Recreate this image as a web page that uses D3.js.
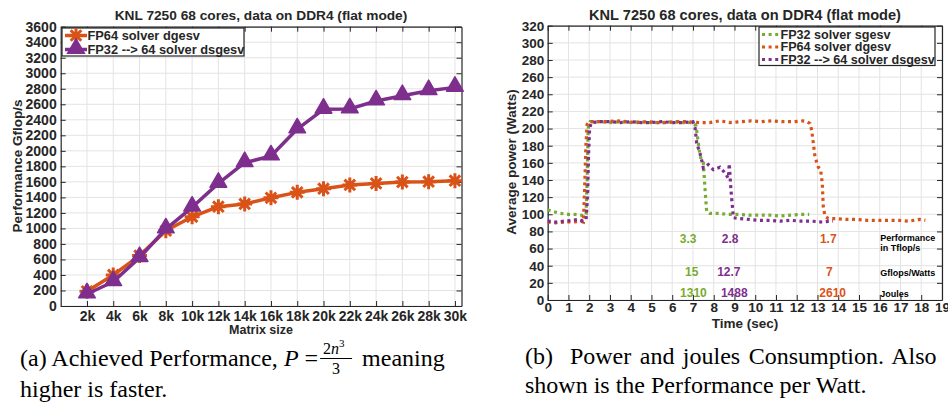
<!DOCTYPE html>
<html>
<head>
<meta charset="utf-8">
<script src="https://cdn.jsdelivr.net/npm/d3@7"></script>
<style>
  body { margin: 0; background: #fff; }
  svg { display: block; }
  text { font-family: "Liberation Sans", Arial, sans-serif; fill: #262626; }
  .grid line { stroke: #e3e3e3; stroke-width: 1; }
  .axis path, .axis line { stroke: #262626; }
  text.cap, .cap text { font-family: "Liberation Serif", "Times New Roman", serif; fill: #000; }
</style>
</head>
<body>
<div id="vis"></div>
<script>
// ---- panel (a): performance vs matrix size ----
const matrixSizes = [2, 4, 6, 8, 10, 12, 14, 16, 18, 20, 22, 24, 26, 28, 30]; // in k
const dgesvGflops  = [190, 400, 650, 970, 1150, 1280, 1315, 1395, 1465, 1512, 1560, 1580, 1598, 1602, 1615];
const dsgesvGflops = [155, 313, 623, 992, 1272, 1580, 1847, 1933, 2281, 2535, 2540, 2642, 2710, 2775, 2818];
const perfTicks = [0, 200, 400, 600, 800, 1000, 1200, 1400, 1600, 1800, 2000, 2200, 2400, 2600, 2800, 3000, 3200, 3400, 3600];
const sizeTickLabels = ["2k", "4k", "6k", "8k", "10k", "12k", "14k", "16k", "18k", "20k", "22k", "24k", "26k", "28k", "30k"];

// ---- panel (b): power over time ----
const sgesvTime  = [0, 0.3, 0.6, 1.0, 1.3, 1.6, 1.75, 1.85, 1.9, 1.95, 2.05, 2.5, 3.0, 3.5, 4.0, 4.5, 5.0, 5.5, 6.0, 6.5, 7.0, 7.15, 7.3, 7.4, 7.5, 7.58, 7.66, 7.8, 8.2, 8.7, 9.2, 9.7, 10.2, 10.7, 11.2, 11.7, 12.2, 12.6];
const sgesvWatts = [105, 103, 101, 100, 100, 99, 98, 100, 140, 200, 208, 208, 207, 208, 207, 208, 207, 207, 208, 207, 207, 203, 175, 163, 160, 130, 103, 101, 101, 100, 100, 99, 99, 99, 98, 99, 100, 100];

const dgesvTime  = [0, 0.4, 0.8, 1.2, 1.6, 1.72, 1.78, 1.84, 1.9, 2.0, 2.3, 2.8, 3.3, 3.8, 4.3, 4.8, 5.3, 5.8, 6.3, 6.8, 7.3, 7.8, 8.3, 8.8, 9.3, 9.8, 10.3, 10.8, 11.3, 11.8, 12.3, 12.5, 12.64, 12.72, 12.8, 12.88, 13.04, 13.15, 13.23, 13.28, 13.36, 13.52, 13.9, 14.4, 14.9, 15.4, 15.9, 16.4, 16.9, 17.4, 17.9, 18.2];
const dgesvWatts = [91, 90, 91, 91, 92, 91, 130, 180, 205, 208, 208, 208, 209, 208, 207, 208, 207, 207, 208, 208, 207, 207, 209, 207, 208, 209, 208, 209, 208, 208, 209, 208, 206, 198, 183, 167, 155, 152, 136, 109, 98, 95, 95, 94, 94, 93, 93, 93, 93, 92, 94, 93];

const dsgesvTime  = [0, 0.4, 0.8, 1.2, 1.5, 1.7, 1.85, 1.92, 1.97, 2.02, 2.1, 2.5, 3.0, 3.5, 4.0, 4.5, 5.0, 5.5, 6.0, 6.5, 7.0, 7.1, 7.18, 7.34, 7.45, 7.5, 7.74, 7.98, 8.3, 8.55, 8.7, 8.75, 8.82, 8.87, 8.95, 9.2, 9.7, 10.2, 10.7, 11.2, 11.7, 12.2, 12.7, 13.2, 13.75];
const dsgesvWatts = [92, 91, 92, 93, 94, 92, 94, 120, 170, 200, 207, 208, 208, 207, 208, 207, 207, 208, 207, 207, 208, 201, 183, 171, 160, 154, 158, 152, 155, 148, 142, 159, 132, 117, 96, 95, 94, 93, 93, 92, 93, 92, 92, 91, 92];

const powerTicks = [0, 20, 40, 60, 80, 100, 120, 140, 160, 180, 200, 220, 240, 260, 280, 300, 320];
const timeTicks = [0, 1, 2, 3, 4, 5, 6, 7, 8, 9, 10, 11, 12, 13, 14, 15, 16, 17, 18, 19];

// annotations: value labels per solver, placed at (time, watts)
const noteSolvers = ["sgesv", "dsgesv", "dgesv"];
const perfTflops = ["3.3", "2.8", "1.7"];
const gflopsPerWatt = ["15", "12.7", "7"];
const joules = ["1310", "1488", "2610"];
const perfNoteTime = [6.77, 8.79, 13.52];
const gpwNoteTime = [6.94, 8.73, 13.57];
const joulesNoteTime = [7.02, 8.99, 13.73];
const rowNoteWatts = [72, 33, 8.5];
const rowTitles = [["Performance", "in Tflop/s"], ["Gflops/Watts"], ["Joules"]];

const color = {
  sgesv: "#77AC30",
  dgesv: "#D95319",
  dsgesv: "#7E2F8E"
};

const W = 948, H = 408;
const svg = d3.select("#vis").append("svg")
  .attr("width", W)
  .attr("height", H)
  .attr("viewBox", [0, 0, W, H].join(" "));

// draws a MATLAB-like box axis with inward ticks and a grid
function boxAxes(g, x, y, xTicks, xFormat, yTicks, fontSize, xPad, yPad) {
  const [x0, x1] = x.range();
  const [y0, y1] = y.range();

  g.append("g").attr("class", "grid")
    .selectAll("line").data(xTicks).join("line")
      .attr("x1", d => x(d)).attr("x2", d => x(d))
      .attr("y1", y0).attr("y2", y1);
  g.append("g").attr("class", "grid")
    .selectAll("line").data(yTicks).join("line")
      .attr("x1", x0).attr("x2", x1)
      .attr("y1", d => y(d)).attr("y2", d => y(d));

  const bottom = g.append("g").attr("class", "axis")
    .attr("transform", `translate(0,${y0})`)
    .call(d3.axisBottom(x).tickValues(xTicks).tickFormat(xFormat).tickSize(-5).tickPadding(xPad).tickSizeOuter(0));
  const left = g.append("g").attr("class", "axis")
    .attr("transform", `translate(${x0},0)`)
    .call(d3.axisLeft(y).tickValues(yTicks).tickFormat(d3.format("d")).tickSize(-5).tickPadding(yPad).tickSizeOuter(0));
  g.append("g").attr("class", "axis")
    .attr("transform", `translate(0,${y1})`)
    .call(d3.axisTop(x).tickValues(xTicks).tickFormat("").tickSize(-5).tickSizeOuter(0));
  g.append("g").attr("class", "axis")
    .attr("transform", `translate(${x1},0)`)
    .call(d3.axisRight(y).tickValues(yTicks).tickFormat("").tickSize(-5).tickSizeOuter(0));

  g.selectAll(".axis .domain").attr("stroke-width", 1.2);
  [bottom, left].forEach(a => a.selectAll("text")
    .attr("fill", "#262626")
    .style("font-size", fontSize + "px")
    .style("font-weight", "bold")
    .style("font-family", '"Liberation Sans", Arial, sans-serif'));
}

// MATLAB '*' marker: four crossing strokes
function asteriskPath(r) {
  const d = r * Math.SQRT1_2;
  return `M${-r},0L${r},0M0,${-r}L0,${r}M${-d},${-d}L${d},${d}M${-d},${d}L${d},${-d}`;
}
const trianglePath = d3.symbol(d3.symbolTriangle, 120)();

// ===================== panel (a) =====================
const xa = d3.scaleLinear().domain([0, 30.5]).range([60.7, 461.5]);
const ya = d3.scaleLinear().domain([0, 3600]).range([306, 26.7]);
const ga = svg.append("g");

boxAxes(ga, xa, ya, matrixSizes, (d, i) => sizeTickLabels[i], perfTicks, 14, 5, 4);

const lineA = d3.line().x(d => xa(d[0])).y(d => ya(d[1]));
const dgesvPts = matrixSizes.map((s, i) => [s, dgesvGflops[i]]);
const dsgesvPts = matrixSizes.map((s, i) => [s, dsgesvGflops[i]]);

ga.append("path").datum(dgesvPts)
  .attr("fill", "none").attr("stroke", color.dgesv).attr("stroke-width", 3.5)
  .attr("stroke-linejoin", "round").attr("d", lineA);
ga.append("g").selectAll("path").data(dgesvPts).join("path")
  .attr("transform", d => `translate(${xa(d[0])},${ya(d[1])})`)
  .attr("d", asteriskPath(7.5))
  .attr("stroke", color.dgesv).attr("stroke-width", 3).attr("fill", "none");

ga.append("path").datum(dsgesvPts)
  .attr("fill", "none").attr("stroke", color.dsgesv).attr("stroke-width", 3.5)
  .attr("stroke-linejoin", "round").attr("d", lineA);
ga.append("g").selectAll("path").data(dsgesvPts).join("path")
  .attr("transform", d => `translate(${xa(d[0])},${ya(d[1]) - 1})`)
  .attr("d", trianglePath)
  .attr("fill", color.dsgesv).attr("stroke", color.dsgesv).attr("stroke-width", 1.5)
  .attr("stroke-linejoin", "round");

// titles and labels
ga.append("text")
  .attr("x", 261).attr("y", 20)
  .attr("text-anchor", "middle")
  .style("font-size", "13.7px").style("font-weight", "bold")
  .text("KNL 7250 68 cores, data on DDR4 (flat mode)");
ga.append("text")
  .attr("x", 261).attr("y", 334)
  .attr("text-anchor", "middle")
  .style("font-size", "12.5px").style("font-weight", "bold")
  .text("Matrix size");
ga.append("text")
  .attr("transform", "translate(22,166)rotate(-90)")
  .attr("text-anchor", "middle")
  .style("font-size", "13.5px").style("font-weight", "bold")
  .text("Performance Gflop/s");

// legend (a)
const legA = ga.append("g");
legA.append("rect")
  .attr("x", 62).attr("y", 28).attr("width", 182).attr("height", 28)
  .attr("fill", "#fff").attr("stroke", "#262626").attr("stroke-width", 1.2);
const legAItems = [
  { name: "FP64 solver dgesv", key: "dgesv", mark: asteriskPath(7.5), filled: false },
  { name: "FP32 --> 64 solver dsgesv", key: "dsgesv", mark: trianglePath, filled: true }
];
legAItems.forEach((it, i) => {
  const cy = 35.5 + i * 14;
  legA.append("line").attr("x1", 65).attr("x2", 87).attr("y1", cy).attr("y2", cy)
    .attr("stroke", color[it.key]).attr("stroke-width", 3.5);
  legA.append("path").attr("transform", `translate(76,${cy - (it.filled ? 1 : 0)})`)
    .attr("d", it.mark)
    .attr("fill", it.filled ? color[it.key] : "none")
    .attr("stroke", color[it.key]).attr("stroke-width", it.filled ? 1.5 : 3);
  legA.append("text").attr("x", 87.5).attr("y", cy + 4.6)
    .style("font-size", "12.8px").style("font-weight", "bold")
    .text(it.name);
});

// ===================== panel (b) =====================
const xb = d3.scaleLinear().domain([0, 19]).range([547.7, 942]);
const yb = d3.scaleLinear().domain([0, 320]).range([300, 25.7]);
const gb = svg.append("g");

boxAxes(gb, xb, yb, timeTicks, d3.format("d"), powerTicks, 13.5, 2.5, 3.5);

const lineB = d3.line().x(d => xb(d[0])).y(d => yb(d[1]));
const seriesB = [
  { key: "sgesv", name: "FP32 solver sgesv", t: sgesvTime, w: sgesvWatts },
  { key: "dgesv", name: "FP64 solver dgesv", t: dgesvTime, w: dgesvWatts },
  { key: "dsgesv", name: "FP32 --> 64 solver dsgesv", t: dsgesvTime, w: dsgesvWatts }
];
seriesB.forEach(s => {
  gb.append("path").datum(s.t.map((t, i) => [t, s.w[i]]))
    .attr("fill", "none").attr("stroke", color[s.key]).attr("stroke-width", 3.2)
    .attr("stroke-dasharray", "3,3.6")
    .attr("d", lineB);
});

// annotations
const noteRows = [perfTflops, gflopsPerWatt, joules];
const noteTimes = [perfNoteTime, gpwNoteTime, joulesNoteTime];
noteRows.forEach((row, r) => {
  row.forEach((label, i) => {
    gb.append("text")
      .attr("x", xb(noteTimes[r][i])).attr("y", yb(rowNoteWatts[r]) + 4.3)
      .attr("text-anchor", "middle")
      .style("fill", color[noteSolvers[i]])
      .style("font-size", "12px").style("font-weight", "bold")
      .text(label);
  });
  rowTitles[r].forEach((line, j) => {
    gb.append("text")
      .attr("x", xb(16.02)).attr("y", yb(rowNoteWatts[r]) + 4 + j * 10 - (rowTitles[r].length > 1 ? 1 : 0))
      .style("font-size", "9px").style("font-weight", "bold").style("fill", "#000")
      .text(line);
  });
});

gb.append("text")
  .attr("x", 745).attr("y", 20)
  .attr("text-anchor", "middle")
  .style("font-size", "14.6px").style("font-weight", "bold")
  .text("KNL 7250 68 cores, data on DDR4 (flat mode)");
gb.append("text")
  .attr("x", 745).attr("y", 328)
  .attr("text-anchor", "middle")
  .style("font-size", "13.5px").style("font-weight", "bold")
  .text("Time (sec)");
gb.append("text")
  .attr("transform", "translate(516,162)rotate(-90)")
  .attr("text-anchor", "middle")
  .style("font-size", "13.5px").style("font-weight", "bold")
  .text("Average power (Watts)");

// legend (b)
const legB = gb.append("g");
legB.append("rect")
  .attr("x", 759).attr("y", 27).attr("width", 176).attr("height", 38.5)
  .attr("fill", "#fff").attr("stroke", "#262626").attr("stroke-width", 1.2);
seriesB.forEach((s, i) => {
  const cy = 34.5 + i * 12.5;
  legB.append("line").attr("x1", 762).attr("x2", 780).attr("y1", cy).attr("y2", cy)
    .attr("stroke", color[s.key]).attr("stroke-width", 3.2).attr("stroke-dasharray", "3,3.6");
  legB.append("text").attr("x", 780.5).attr("y", cy + 4.4)
    .style("font-size", "12.6px").style("font-weight", "bold")
    .text(s.name);
});

// ===================== captions =====================
const capSize = 24;
const capA = svg.append("text").attr("class", "cap").attr("x", 20).attr("y", 366).style("font-size", capSize + "px");
capA.append("tspan").text("(a) Achieved Performance, ");
capA.append("tspan").style("font-style", "italic").text("P");
capA.append("tspan").text(" = ");
const wBefore = capA.node().getComputedTextLength();
capA.append("tspan").attr("dx", 38).text("meaning");
// fraction 2n^3 / 3
const fx = 20 + wBefore + 2;
const frac = svg.append("g").attr("class", "cap");
frac.append("text").attr("x", fx + 3).attr("y", 354).style("font-size", "16px")
  .html('2<tspan font-style="italic">n</tspan><tspan dy="-7" font-size="11px">3</tspan>');
frac.append("line").attr("x1", fx).attr("x2", fx + 32).attr("y1", 358.5).attr("y2", 358.5)
  .attr("stroke", "#000").attr("stroke-width", 1);
frac.append("text").attr("x", fx + 16).attr("y", 374).attr("text-anchor", "middle")
  .style("font-size", "16px").text("3");
svg.append("text").attr("class", "cap").attr("x", 20).attr("y", 397).style("font-size", capSize + "px")
  .text("higher is faster.");

// caption (b): first line justified by widening the word gaps
const capB1 = svg.append("text").attr("class", "cap").attr("x", 525).attr("y", 364)
  .style("font-size", capSize + "px").style("white-space", "pre")
  .text("(b)  Power and joules Consumption. Also");
const natural = capB1.node().getComputedTextLength();
capB1.style("word-spacing", Math.max(0, (414 - natural) / 7) + "px");
svg.append("text").attr("class", "cap").attr("x", 525).attr("y", 393)
  .style("font-size", capSize + "px")
  .text("shown is the Performance per Watt.");
</script>
</body>
</html>
